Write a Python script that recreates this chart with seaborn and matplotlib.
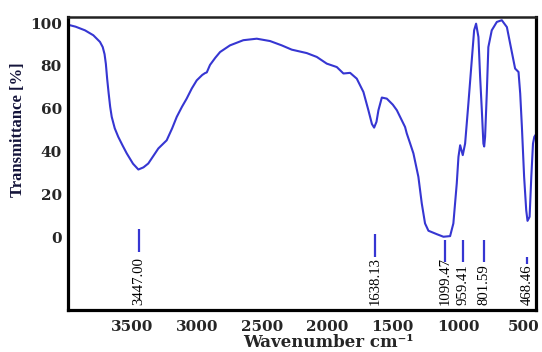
import matplotlib
matplotlib.use("Agg")
import matplotlib.pyplot as plt
import seaborn as sns
import pandas as pd

# ---- data ----
wavenumber = [3988, 3930, 3858, 3794, 3743, 3722, 3708, 3698, 3688, 3677, 3665, 3653, 3630,
              3603, 3570, 3538, 3490, 3449, 3410, 3373, 3330, 3296, 3232, 3190, 3155,
              3115, 3079, 3040, 3002, 2960, 2938, 2925, 2900, 2860, 2823, 2747, 2645,
              2542, 2440, 2351, 2274, 2159, 2082, 2006, 1929, 1878, 1827, 1776, 1725,
              1687, 1660, 1643, 1625, 1610, 1584, 1546, 1500, 1469, 1444, 1406, 1393,
              1367, 1342, 1304, 1278, 1253, 1227, 1163, 1112, 1061, 1036, 1010, 997,
              984, 964, 946, 921, 895, 877, 862, 844, 831, 818, 806, 800, 793, 780,
              768, 742, 703, 665, 626, 601, 563, 537, 524, 511, 494, 478, 468, 452,
              439, 426, 416, 405]
transmittance = [99.2, 98.3, 96.6, 94.3, 91.2, 88.8, 85.5, 81.0, 74.0, 67.5, 61.0, 56.3, 51.0,
                 47.0, 43.0, 39.3, 34.5, 31.8, 32.8, 34.6, 38.5, 41.6, 45.4, 51.0, 56.3,
                 61.0, 64.8, 69.5, 73.3, 75.8, 76.7, 77.0, 80.5, 83.8, 86.5, 89.6, 92.0,
                 92.7, 91.6, 89.6, 87.6, 86.0, 84.2, 81.1, 79.5, 76.5, 76.8, 74.1, 67.9,
                 59.4, 53.0, 51.3, 54.0, 59.4, 65.3, 64.8, 62.0, 59.4, 56.3, 51.6, 48.6,
                 43.9, 39.3, 28.4, 16.0, 6.7, 3.3, 1.7, 0.5, 0.8, 6.7, 25.3, 37.7,
                 43.1, 38.5, 43.9, 62.5, 82.7, 96.6, 99.7, 93.5, 74.9, 59.4, 43.9, 42.5, 47.0, 67.2,
                 88.8, 96.6, 100.5, 101.3, 98.1, 90.4, 78.8, 77.2, 67.2, 51.6, 28.4, 12.9, 7.9, 9.8,
                 28.4, 43.9, 47.0, 48.0]

peak_labels = ["3447.00", "1638.13", "1099.47", "959.41", "801.59", "468.46"]
peak_wn = [3447.00, 1638.13, 1099.47, 959.41, 801.59, 468.46]
peak_line_top = [4.0, 2.0, -1.1, -1.1, -1.1, -9.0]
peak_line_bottom = [-6.6, -8.8, -11.3, -11.3, -11.3, -12.0]
label_base = -31.3

x_ticks = [3500, 3000, 2500, 2000, 1500, 1000, 500]
y_ticks = [0, 20, 40, 60, 80, 100]

df = pd.DataFrame({"wn": wavenumber, "T": transmittance})

sns.set_style("white")
plt.rcParams["font.family"] = ["DejaVu Serif"]

fig = plt.figure(figsize=(5.42, 3.52), dpi=100)
ax = fig.add_axes([68 / 542, 1 - 310 / 352, 468 / 542, 293 / 352])

blue = "#3636d2"
sns.lineplot(data=df, x="wn", y="T", ax=ax, color=blue, linewidth=1.5, estimator=None)

ax.vlines(peak_wn, peak_line_bottom, peak_line_top, color=blue, linewidth=1.6)
for lab, w in zip(peak_labels, peak_wn):
    ax.text(w, label_base, lab, rotation=90, ha="center", va="bottom",
            fontsize=10.6, family="Liberation Serif", color="black")

ax.set_xlim(3988, 403)
ax.set_ylim(-33.6, 102.8)
ax.set_xticks(x_ticks)
ax.set_yticks(y_ticks)
ax.set_xticklabels([str(t) for t in x_ticks], fontsize=11, fontweight="bold")
ax.set_yticklabels([str(t) for t in y_ticks], fontsize=11, fontweight="bold")
ax.tick_params(axis="both", direction="out", length=3, width=0.8, color="#444444")
ax.tick_params(axis="x", pad=4)
ax.tick_params(axis="y", pad=1.5)

for side, sp in ax.spines.items():
    sp.set_visible(True)
    sp.set_color("black")
    sp.set_linewidth(2.3)
ax.spines["top"].set_color("#222222")
ax.spines["top"].set_linewidth(1.8)

ax.set_xlabel("Wavenumber cm\u207b\u00b9", fontsize=12, fontweight="bold", va="top")
ax.xaxis.set_label_coords(0.556, -0.083)
ax.set_ylabel("Transmittance [%]", fontsize=12, fontweight="bold",
              family="Liberation Serif", color="#14143a", va="center", ha="center")
ax.yaxis.set_label_coords(-0.107, 0.614)

fig.savefig("out.png", dpi=100)
